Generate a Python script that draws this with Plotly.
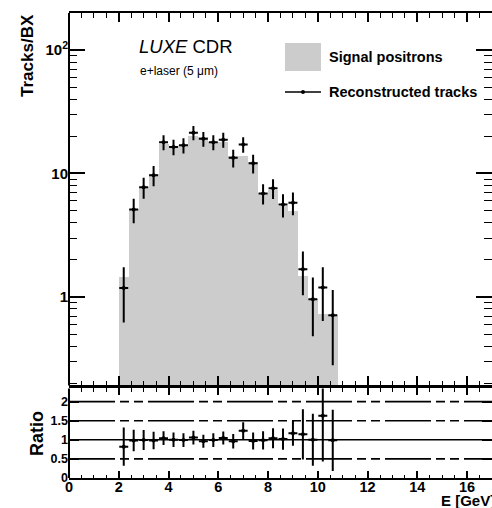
import plotly.graph_objects as go

# Energy bins (bin centres, GeV) and bin width
energy_gev = [2.2, 2.6, 3.0, 3.4, 3.8, 4.2, 4.6, 5.0, 5.4, 5.8, 6.2,
              6.6, 7.0, 7.4, 7.8, 8.2, 8.6, 9.0, 9.4, 9.8, 10.2, 10.6]
bin_width = 0.4

# Signal positrons per bunch crossing (filled histogram)
signal_positrons = [1.44, 5.2, 7.8, 9.9, 17.2, 16.4, 17.0, 20.2, 19.8, 18.0, 18.0,
                    13.9, 13.9, 12.5, 7.0, 7.3, 5.5, 4.95, 1.47, 0.96, 0.73, 0.72]

# Reconstructed tracks per bunch crossing and their uncertainties
reco_tracks = [1.18, 5.1, 7.75, 9.7, 17.9, 16.4, 16.9, 21.4, 19.1, 17.9, 18.8,
               13.4, 17.2, 12.1, 6.9, 7.6, 5.6, 5.8, 1.68, 0.96, 1.19, 0.71]
reco_err = [0.56, 1.15, 1.5, 1.8, 2.5, 2.35, 2.4, 2.8, 2.6, 2.5, 2.6,
            2.2, 2.5, 2.1, 1.3, 1.4, 1.2, 1.2, 0.65, 0.48, 0.55, 0.43]

# Uncertainty on reconstructed / signal ratio
ratio_err = [0.5, 0.28, 0.26, 0.23, 0.18, 0.19, 0.18, 0.18, 0.17, 0.18, 0.17,
             0.19, 0.22, 0.22, 0.24, 0.26, 0.28, 0.33, 0.66, 0.68, 1.2, 0.8]

ratio = [r / s for r, s in zip(reco_tracks, signal_positrons)]

# Axis ticks
x_major = [0, 2, 4, 6, 8, 10, 12, 14, 16]
y_major = [1, 10, 100]
y_major_text = ["1", "10", "10<sup>2</sup>"]
y_minor = [0.2, 0.3, 0.4, 0.5, 0.6, 0.7, 0.8, 0.9,
           2, 3, 4, 5, 6, 7, 8, 9,
           20, 30, 40, 50, 60, 70, 80, 90, 200]
ratio_ticks = [0, 0.5, 1, 1.5, 2]
ratio_tick_text = ["0", "0.5", "1", "1.5", "2"]
ratio_ref_lines = [0.5, 1.0, 1.5, 2.0]

FONT = "Liberation Sans, Arial, Helvetica, sans-serif"
half_bin = bin_width / 2 * 0.9

fig = go.Figure()

fig.add_trace(go.Bar(
    x=energy_gev, y=signal_positrons, width=bin_width,
    marker=dict(color="#cccccc", line=dict(width=0)),
    xaxis="x2", yaxis="y", showlegend=False,
))

err_style = dict(color="black", thickness=2, width=0)

fig.add_trace(go.Scatter(
    x=energy_gev, y=reco_tracks, mode="markers",
    marker=dict(color="black", size=4),
    error_y=dict(type="data", array=reco_err, **err_style),
    error_x=dict(type="constant", value=half_bin, **err_style),
    xaxis="x2", yaxis="y", showlegend=False,
))

# Reference lines of the ratio panel
for level in ratio_ref_lines:
    fig.add_shape(
        type="line", xref="x domain", yref="y2",
        x0=0, x1=1, y0=level, y1=level,
        line=dict(color="black", width=1.6,
                  dash="solid" if level == 1.0 else "46px,5px,9px,5px,9px,5px"),
        layer="below",
    )

fig.add_trace(go.Scatter(
    x=energy_gev, y=ratio, mode="markers",
    marker=dict(color="black", size=4),
    error_y=dict(type="data", array=ratio_err, **err_style),
    error_x=dict(type="constant", value=half_bin, **err_style),
    xaxis="x", yaxis="y2", showlegend=False,
))

x_common = dict(
    showline=True, linecolor="black", linewidth=2, mirror="allticks",
    ticks="inside", tickcolor="black", tickwidth=1.5,
    showgrid=False, zeroline=False,
)
# y axes: ticks on both sides, frame line only on the left (drawn as a shape)
y_common = dict(
    showline=False, mirror="allticks",
    ticks="inside", tickcolor="black", tickwidth=1.5,
    showgrid=False, zeroline=False,
)
tick_font = dict(family=FONT, size=15, color="black", weight="bold")

fig.update_layout(
    width=492, height=508,
    margin=dict(l=69, r=0, t=13, b=30),
    paper_bgcolor="white", plot_bgcolor="white",
    bargap=0,
    font=dict(family=FONT, color="black"),
    xaxis=dict(
        domain=[0, 1], anchor="y2", range=[0, 17.0],
        tickvals=x_major, ticklen=7, ticklabelstandoff=-5,
        minor=dict(ticks="inside", dtick=0.5, ticklen=3.5, tickwidth=1.2, tickcolor="black"),
        tickfont=dict(family=FONT, size=14.5, color="black", weight="bold"),
        **x_common,
    ),
    xaxis2=dict(
        domain=[0, 1], anchor="y", matches="x", range=[0, 17.0],
        tickvals=x_major, ticklen=9, showticklabels=False,
        minor=dict(ticks="inside", dtick=0.5, ticklen=4.5, tickwidth=1.2, tickcolor="black"),
        **x_common,
    ),
    yaxis=dict(
        domain=[0.199, 1], anchor="x2", type="log", range=[-0.717, 2.30],
        tickvals=y_major, ticktext=y_major_text, ticklen=16,
        minor=dict(ticks="inside", tickvals=y_minor, ticklen=8, tickwidth=1.2, tickcolor="black"),
        tickfont=tick_font,
        **y_common,
    ),
    yaxis2=dict(
        domain=[0, 0.1925], anchor="x", range=[0, 2.343],
        tickvals=ratio_ticks, ticktext=ratio_tick_text, ticklen=10,
        tickfont=dict(family=FONT, size=12.5, color="black", weight="bold"),
        **y_common,
    ),
)

# Left frame lines of both panels
for yref in ("y domain", "y2 domain"):
    fig.add_shape(type="line", xref="x domain", yref=yref,
                  x0=0, x1=0, y0=0, y1=1,
                  line=dict(color="black", width=2))

# Legend drawn by hand: grey box for the histogram, line with dot for the tracks
fig.add_shape(type="rect", xref="paper", yref="paper",
              x0=0.5106, x1=0.5957, y0=0.8753, y1=0.9355,
              fillcolor="#cccccc", line=dict(width=0))
fig.add_shape(type="line", xref="paper", yref="paper",
              x0=0.5106, x1=0.5957, y0=0.8301, y1=0.8301,
              line=dict(color="black", width=1.6))
fig.add_shape(type="circle", xref="paper", yref="paper",
              x0=0.5532 - 0.0047, x1=0.5532 + 0.0047,
              y0=0.8301 - 0.0043, y1=0.8301 + 0.0043,
              fillcolor="black", line=dict(width=0))

label_font = dict(family=FONT, size=14.5, color="black", weight="bold")
annotations = [
    dict(text="Signal positrons", x=0.6099, y=0.9054, xanchor="left", yanchor="middle",
         font=label_font),
    dict(text="Reconstructed tracks", x=0.6099, y=0.8301, xanchor="left", yanchor="middle",
         font=label_font),
    dict(text="<i>LUXE</i> CDR", x=0.1608, y=0.929, xanchor="left", yanchor="middle",
         font=dict(family=FONT, size=18.5, color="black")),
    dict(text="e+laser (5 μm)", x=0.1631, y=0.8753, xanchor="left", yanchor="middle",
         font=dict(family=FONT, size=12, color="black")),
    dict(text="Tracks/BX", x=-0.097, y=0.9097, textangle=-90,
         xanchor="center", yanchor="middle",
         font=dict(family=FONT, size=17, color="black", weight="bold")),
    dict(text="Ratio", x=-0.0757, y=0.0968, textangle=-90,
         xanchor="center", yanchor="middle",
         font=dict(family=FONT, size=18, color="black", weight="bold")),
    dict(text="E [GeV]", x=1.0118, y=-0.0485, xanchor="right", yanchor="middle",
         font=dict(family=FONT, size=15, color="black", weight="bold")),
]
for a in annotations:
    a.update(xref="paper", yref="paper", showarrow=False)
fig.update_layout(annotations=annotations)

fig.write_html("out.html")
